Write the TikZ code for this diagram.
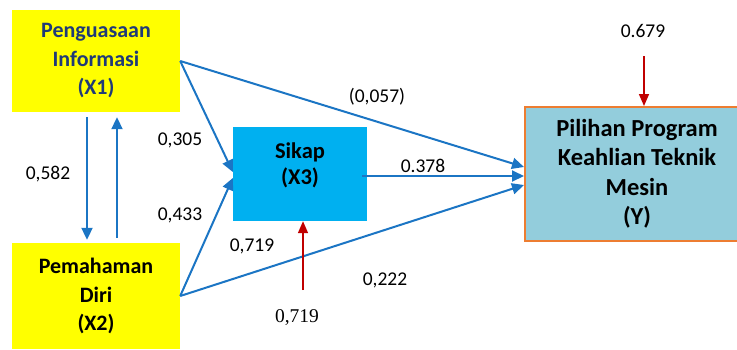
\documentclass[tikz,border=0pt]{standalone}
\usepackage{fontspec}
\setmainfont{Carlito}
\newfontfamily\serifnum{Liberation Serif}
\usetikzlibrary{arrows.meta}

\definecolor{pathblue}{HTML}{1B75C4}
\definecolor{errred}{HTML}{C00000}
\definecolor{boxyellow}{HTML}{FFFF00}
\definecolor{boxcyan}{HTML}{00B0F0}
\definecolor{boxteal}{HTML}{93CDDC}
\definecolor{boxorange}{HTML}{ED7D31}
\definecolor{navytext}{HTML}{1F3A78}

\begin{document}
\begin{tikzpicture}[x=1pt, y=-1pt,
  varbox/.style = {rectangle, inner sep=0pt, align=center, font=\fontsize{22}{28.5}\selectfont\bfseries},
  path/.style = {line width=2pt, pathblue, -{Triangle[length=12pt, width=11pt]}},
  err/.style = {line width=1.6pt, errred, -{Triangle[length=12pt, width=10pt]}},
  coef/.style = {font=\fontsize{19.5}{22}\selectfont}]
\useasboundingbox (0, 0) rectangle (737, 349);

\node[varbox, fill=boxyellow, minimum width=168pt, minimum height=102pt, text=navytext] (X1) at (96, 61) {Penguasaan\\Informasi\\(X1)};
\node[varbox, fill=boxyellow, minimum width=168pt, minimum height=106pt] (X2) at (96, 296) {Pemahaman\\Diri\\(X2)};
\node[varbox, fill=boxcyan, minimum width=134pt, minimum height=94pt] (X3) at (300, 174) {};
\node[varbox, font=\fontsize{22.5}{26}\selectfont\bfseries] (X3text) at (300, 165) {Sikap\\(X3)};
\node[varbox, fill=boxteal, draw=boxorange, line width=2pt, minimum width=224pt, minimum height=134pt,
      font=\fontsize{24.5}{29.5}\selectfont\bfseries] (Y) at (637, 174) {Pilihan Program\\Keahlian Teknik\\Mesin\\(Y)};

% correlation X1 - X2
\draw[path] ([xshift=-9pt, yshift=-5pt]X1.south) -- ([xshift=-9pt, yshift=3pt]X2.north);
\draw[path] ([xshift=21pt, yshift=5pt]X2.north) -- ([xshift=21pt, yshift=-5pt]X1.south);

% paths to X3
\draw[path] (X1.east) -- ([yshift=2pt]X3.west);
\draw[path] (X2.east) -- ([yshift=-4pt]X3.west);

% paths to Y
\draw[path] (X1.east) -- ([yshift=7pt]Y.west);
\draw[path] ([xshift=-5pt, yshift=-2pt]X3.east) -- ([yshift=-2pt]Y.west);
\draw[path] (X2.east) -- ([yshift=-11pt]Y.west);

% residuals
\coordinate (e3) at (303, 290);
\coordinate (eY) at (644, 56);
\draw[err] (e3) -- (e3 |- X3.south);
\draw[err] (eY) -- (eY |- Y.north);

\node[coef] (r12) at (48, 174) {0,582};
\node[coef] (p13) at (180, 140) {0,305};
\node[coef] (p23) at (180, 215) {0,433};
\node[coef] (p1y) at (377, 97) {(0,057)};
\node[coef] (p3y) at (423, 166) {0.378};
\node[coef] (r3) at (252, 246) {0,719};
\node[coef] (p2y) at (385, 280) {0,222};
\node[coef, font=\fontsize{19.5}{22}\selectfont\serifnum] (e3lab) at (297, 318) {0,719};
\node[coef] (eYlab) at (643, 31) {0.679};

\end{tikzpicture}
\end{document}
